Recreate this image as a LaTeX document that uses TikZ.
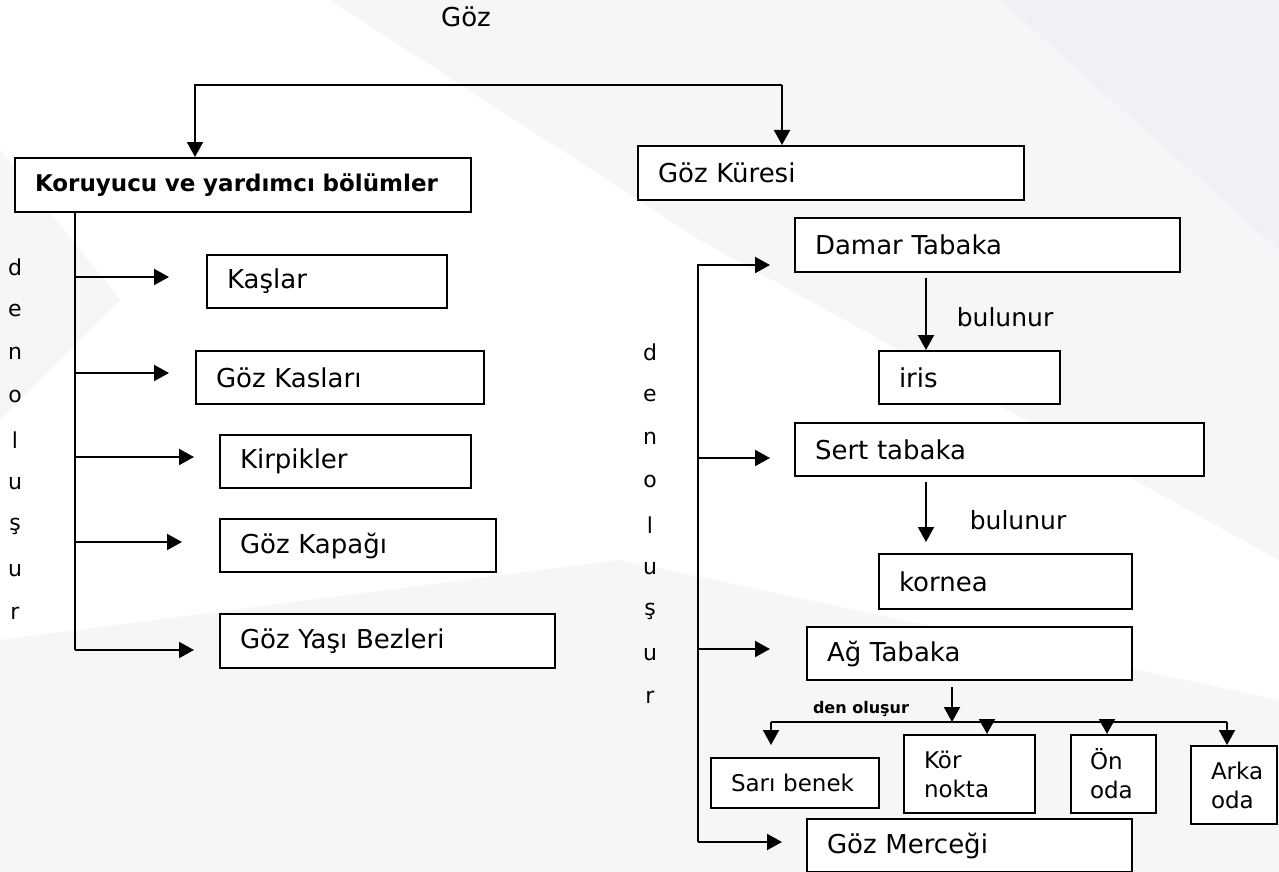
\documentclass[tikz,border=0pt]{standalone}
\usepackage{fontspec}
\setmainfont{DejaVu Sans}
\usetikzlibrary{arrows.meta,calc}
\definecolor{bgA}{RGB}{246,246,249}
\definecolor{bgB}{RGB}{241,241,245}
\begin{document}
\begin{tikzpicture}[x=1pt,y=-1pt,
  box/.style={draw=black, line width=2pt, fill=white, anchor=north west,
    inner xsep=20pt, inner ysep=0pt, align=left, font=\fontsize{26}{30}\selectfont},
  sbox/.style={box, font=\fontsize{23}{29}\selectfont},
  arr/.style={-{Triangle[length=15pt,width=16pt]}, line width=2pt},
  ln/.style={line width=2pt},
  lbl/.style={font=\fontsize{25}{28}\selectfont, inner sep=0pt},
  vlet/.style={font=\fontsize{22}{24}\selectfont, inner sep=0pt}
]
\useasboundingbox (0,0) rectangle (1279,872);
% faint background watermark
\fill[white] (0,0) rectangle (1279,872);
\fill[bgA] (330,0) -- (1000,0) -- (1279,250) -- (1279,560) -- (700,240) -- cycle;
\fill[bgA] (0,640) -- (620,560) -- (1279,700) -- (1279,872) -- (0,872) -- cycle;
\fill[bgB] (1000,0) -- (1279,0) -- (1279,250) -- cycle;
\fill[bgA] (0,150) -- (120,300) -- (0,420) -- cycle;

% title
\node[font=\fontsize{26}{30}\selectfont, inner sep=0pt] (goz) at (466,17) {Göz};

% main boxes
\node[box, font=\fontsize{23}{28}\selectfont\bfseries, text width=416pt, minimum height=54pt] (koru) at (14,157) {Koruyucu ve yardımcı bölümler};
\node[box, text width=346pt, minimum height=54pt] (kure) at (637,145) {Göz Küresi};

% left branch boxes
\node[box, text width=200pt, minimum height=53pt] (kaslar) at (206,254) {Kaşlar};
\node[box, text width=248pt, minimum height=53pt] (kaslari) at (195,350) {Göz Kasları};
\node[box, text width=211pt, minimum height=53pt] (kirpik) at (219,434) {Kirpikler};
\node[box, text width=236pt, minimum height=53pt] (kapak) at (219,518) {Göz Kapağı};
\node[box, text width=295pt, minimum height=54pt] (yasi) at (219,613) {Göz Yaşı Bezleri};

% right branch boxes
\node[box, text width=345pt, minimum height=54pt] (damar) at (794,217) {Damar Tabaka};
\node[box, text width=141pt, minimum height=53pt] (iris) at (878,350) {iris};
\node[box, text width=369pt, minimum height=53pt] (sert) at (794,422) {Sert tabaka};
\node[box, text width=213pt, minimum height=55pt] (kornea) at (878,553) {kornea};
\node[box, text width=285pt, minimum height=53pt] (ag) at (806,626) {Ağ Tabaka};
\node[box, text width=285pt, minimum height=53pt] (mercek) at (806,818) {Göz Merceği};

% small boxes
\node[sbox, inner xsep=20pt, text width=128pt, minimum height=50pt] (sari) at (710,757) {Sarı benek};
\node[sbox, text width=91pt, minimum height=78pt] (kor) at (903,734) {Kör\\nokta};
\node[sbox, inner xsep=19pt, text width=47pt, minimum height=78pt] (on) at (1070,734) {Ön\\oda};
\node[sbox, inner xsep=20pt, text width=46pt, minimum height=78pt] (arka) at (1190,745) {Arka\\oda};

% labels
\node[lbl] (bul1) at (1005,317) {bulunur};
\node[lbl] (bul2) at (1018,520) {bulunur};
\node[font=\fontsize{16}{19}\selectfont\bfseries, inner sep=0pt] (denol) at (861,709) {den oluşur};

% vertical letters
\foreach \c [count=\i from 0] in {d,e,n,o,l,u,ş,u,r}{
  \node[vlet] (L\i) at (15,{267+43.3*\i}) {\c};
  \node[vlet] (R\i) at (650,{352+43.2*\i}) {\c};
}

% top connector
\coordinate (tl) at (195,85);
\coordinate (tr) at (782,85);
\draw[arr] (tr) -- (tl) -- (tl |- koru.north);
\draw[arr] (tr) -- (tr |- kure.north);

% left trunk
\coordinate (lt) at (75,650);
\draw[ln] (koru.south -| lt) -- (lt);
\coordinate (a1) at (169,277);
\coordinate (a2) at (169,373);
\coordinate (a3) at (194,457);
\coordinate (a4) at (182,542);
\coordinate (a5) at (194,650);
\foreach \a in {a1,a2,a3,a4,a5}{
  \draw[arr] (\a -| lt) -- (\a);
}

% right trunk
\coordinate (rtop) at (698,265);
\coordinate (rbot) at (698,842);
\coordinate (b1) at (770,265);
\coordinate (b2) at (770,458);
\coordinate (b3) at (770,649);
\coordinate (b4) at (782,842);
\draw[arr] (rbot) -- (rtop) -- (b1);
\draw[arr] (b2 -| rtop) -- (b2);
\draw[arr] (b3 -| rtop) -- (b3);
\draw[arr] (rbot) -- (b4);

% bulunur arrows
\coordinate (c1) at (926,278);
\coordinate (c2) at (926,482);
\coordinate (c3) at (926,542);
\draw[arr] (c1) -- (c1 |- iris.north);
\draw[arr] (c2) -- (c3);

% Ag Tabaka branches
\coordinate (d0) at (952,687);
\coordinate (hl) at (771,722);
\coordinate (hr) at (1227,722);
\draw[arr] (d0) -- (d0 |- hl);
\draw[ln] (hl) -- (hr);
\coordinate (e1) at (771,745);
\draw[arr] (hl) -- (e1);
\draw[arr] (987,719) -- (kor.north -| 987,0);
\draw[arr] (1107,719) -- (on.north -| 1107,0);
\draw[arr] (hr) -- (hr |- arka.north);
\end{tikzpicture}
\end{document}
